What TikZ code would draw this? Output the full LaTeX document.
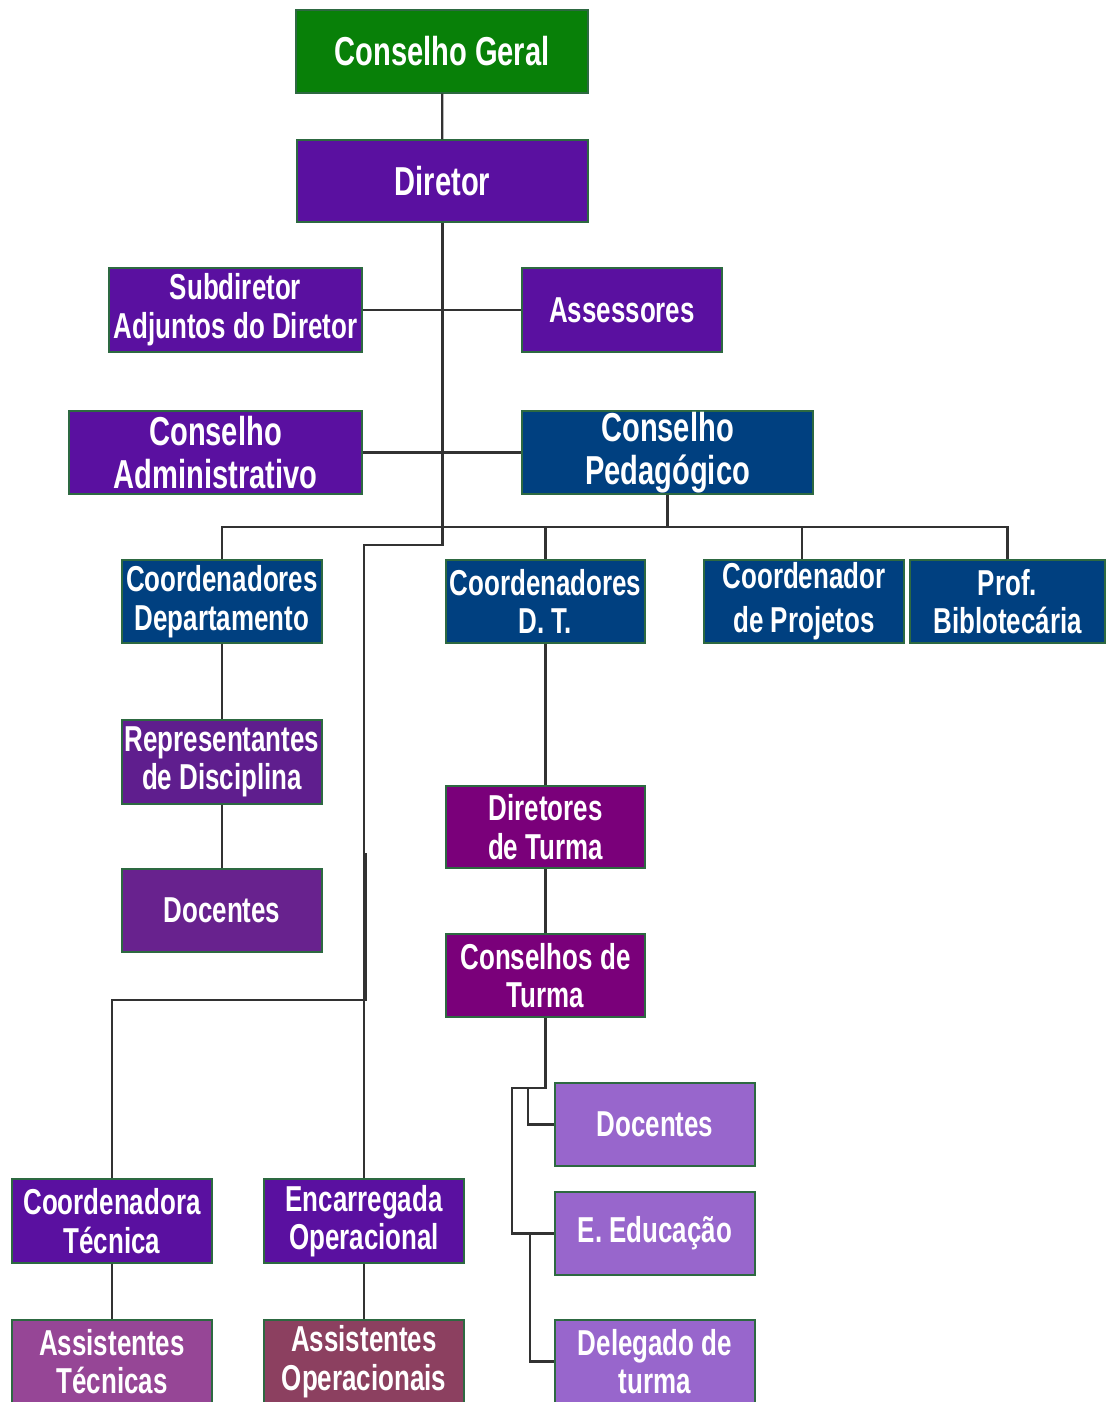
\documentclass[tikz,border=0pt]{standalone}
\usepackage{fontspec}
\setmainfont{Liberation Sans}[FakeStretch=0.72]
\usepackage{tikz}
\usetikzlibrary{positioning}

\definecolor{cgreen}{RGB}{8,128,8}
\definecolor{cviolet}{RGB}{90,16,160}
\definecolor{cblue}{RGB}{0,64,128}
\definecolor{crep}{RGB}{95,30,142}
\definecolor{cdoc}{RGB}{104,34,142}
\definecolor{cturma}{RGB}{122,0,122}
\definecolor{clight}{RGB}{152,102,204}
\definecolor{castec}{RGB}{150,70,150}
\definecolor{casop}{RGB}{140,64,96}
\definecolor{boxline}{RGB}{45,105,65}
\definecolor{wire}{RGB}{50,50,50}

\begin{document}
\begin{tikzpicture}[
    x=0.02cm, y=-0.02cm,
    box/.style={rectangle, draw=boxline, line width=0.8pt, text=white, align=center, inner sep=0pt,
                minimum width=4cm, minimum height=1.66cm, font=\fontsize{20.5}{22}\selectfont\bfseries},
    bigbox/.style={box, font=\fontsize{23}{24.5}\selectfont\bfseries},
    link/.style={draw=wire, line width=1.3pt}
]
\useasboundingbox (0,0) rectangle (1105,1402);

% top of the chart
\node[bigbox, fill=cgreen, minimum width=5.84cm] (cg) at (442,51.5) {Conselho Geral};
\node[bigbox, fill=cviolet, minimum width=5.82cm, minimum height=1.64cm] (dir) at (442.5,181) {Diretor};
\node[box, fill=cviolet, minimum width=5.06cm, minimum height=1.68cm] (sub) at (235.5,310) {Subdiretor\\Adjuntos do Diretor};
\node[box, fill=cviolet, minimum height=1.68cm] (ases) at (622,310) {Assessores};
\node[bigbox, fill=cviolet, minimum width=5.86cm] (cadm) at (215.5,452.5) {Conselho\\Administrativo};
\node[bigbox, fill=cblue, minimum width=5.82cm] (cped) at (667.5,452.5) {Conselho\\Pedag\'ogico};

% pedagogical branch
\node[box, fill=cblue] (cdep) at (222,601.5) {Coordenadores\\Departamento};
\node[box, fill=cblue, minimum width=3.98cm] (cdt) at (545.5,601.5) {Coordenadores\\D. T.};
\node[box, fill=cblue, font=\fontsize{20.5}{25}\selectfont\bfseries] (cproj) at (804,601.5) {Coordenador\\de Projetos};
\node[box, fill=cblue, minimum width=3.9cm] (prof) at (1007.5,601.5) {Prof.\\Biblotec\'aria};
\node[box, fill=crep, minimum height=1.68cm] (rep) at (222,762) {Representantes\\de Disciplina};
\node[box, fill=cdoc] (docl) at (222,910.5) {Docentes};
\node[box, fill=cturma, minimum width=3.98cm, minimum height=1.64cm] (dtur) at (545.5,827) {Diretores\\de Turma};
\node[box, fill=cturma, minimum width=3.98cm] (ctur) at (545.5,975.5) {Conselhos de\\Turma};
\node[box, fill=clight] (docr) at (655,1124.5) {Docentes};
\node[box, fill=clight] (eedu) at (655,1233.5) {E. Educa\c{c}\~ao};
\node[box, fill=clight] (deleg) at (655,1361.5) {Delegado de\\turma};

% staff branch
\node[box, fill=cviolet, minimum height=1.68cm] (ctec) at (112,1221) {Coordenadora\\T\'ecnica};
\node[box, fill=cviolet, minimum height=1.68cm] (encop) at (364,1221) {Encarregada\\Operacional};
\node[box, fill=castec] (astec) at (112,1361.5) {Assistentes\\T\'ecnicas};
\node[box, fill=casop] (asop) at (364,1361.5) {Assistentes\\Operacionais};

% helper points
\coordinate (trunk) at (364,545);
\coordinate (bus) at (0,527);
\coordinate (pj) at (802,527);
\coordinate (tb) at (512,1088);
\coordinate (tb2) at (528,1088);
\coordinate (tb3) at (530,1233.5);
\coordinate (ot) at (366,853);
\coordinate (ob) at (366,1000);

\draw[link] (cg) -- (dir);
\draw[link] (dir) -- (dir |- trunk) -| (encop);
\draw[link] (sub) -- (ases);
\draw[link] (cadm) -- (cped);
\draw[link] (cped) -- (cped |- bus);
\draw[link] (cdep) -- (cdep |- bus) -- (prof |- bus) -- (prof);
\draw[link] (cdt) -- (cdt |- bus);
\draw[link] (pj) -- (pj |- cproj.north);
\draw[link] (cdep) -- (rep);
\draw[link] (rep) -- (docl);
\draw[link] (cdt) -- (dtur);
\draw[link] (dtur) -- (ctur);
\draw[link] (ctur) |- (tb) |- (eedu);
\draw[link] (tb2) |- (docr);
\draw[link] (tb3) |- (deleg);
\draw[link] (ot) -- (ob) -| (ctec);
\draw[link] (ctec) -- (astec);
\draw[link] (encop) -- (asop);
\end{tikzpicture}
\end{document}
